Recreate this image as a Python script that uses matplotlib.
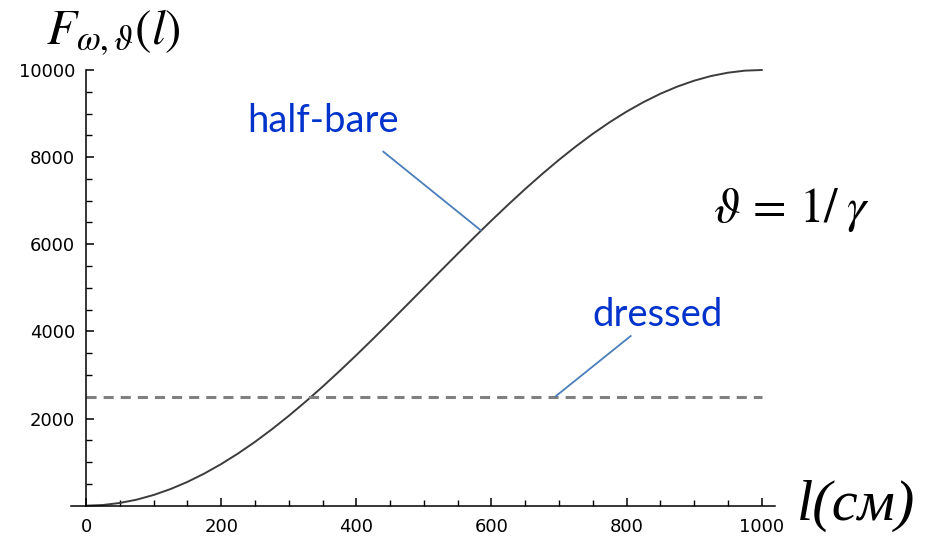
import matplotlib
matplotlib.use("Agg")
import matplotlib.pyplot as plt
from matplotlib.ticker import FixedLocator

# values
l_vals = [0, 25, 50, 75, 100, 125, 150, 175, 200, 225, 250, 275, 300, 325, 350,
          375, 400, 425, 450, 475, 500, 525, 550, 575, 600, 625, 650, 675, 700,
          725, 750, 775, 800, 825, 850, 875, 900, 925, 950, 975, 1000]
f_half_bare = [0, 15, 62, 138, 245, 381, 545, 737, 955, 1198, 1464, 1753, 2061,
               2388, 2730, 3087, 3455, 3833, 4218, 4608, 5000, 5392, 5782, 6167,
               6545, 6913, 7270, 7612, 7939, 8247, 8536, 8802, 9045, 9263, 9455,
               9619, 9755, 9862, 9938, 9985, 10000]
dressed_x = [0, 1000]
dressed_y = [2500, 2500]

x_ticks = [0, 200, 400, 600, 800, 1000]
y_ticks = [2000, 4000, 6000, 8000, 10000]
x_minor = [50 * i for i in range(1, 21)]
y_minor = [500 * i for i in range(1, 21)]

plt.rcParams["mathtext.fontset"] = "stix"

fig = plt.figure(figsize=(9.34, 5.39), dpi=100)
ax = fig.add_axes([0.0632, 0.01336, 0.7813, 0.8891])
ax.set_xlim(-40, 1040)
ax.set_ylim(-600, 10400)

ax.plot(l_vals, f_half_bare, color="#3c3c3c", lw=1.4)
ax.plot(dressed_x, dressed_y, color="#808080", lw=2.2, dashes=(3.3, 2.3))

for s in ["top", "right"]:
    ax.spines[s].set_visible(False)
ax.spines["left"].set_position(("data", 0))
ax.spines["bottom"].set_position(("data", 0))
ax.spines["left"].set_bounds(0, 10000)
ax.spines["bottom"].set_bounds(-23, 1020)
for s in ["left", "bottom"]:
    ax.spines[s].set_linewidth(1.1)

ax.set_xticks(x_ticks)
ax.set_yticks(y_ticks)
ax.xaxis.set_minor_locator(FixedLocator(x_minor))
ax.yaxis.set_minor_locator(FixedLocator(y_minor))
ax.tick_params(which="major", direction="in", length=6, width=1.1, labelsize=13, pad=8)
ax.tick_params(which="minor", direction="in", length=4, width=1.0)
ax.tick_params(axis="x", pad=9)

# annotations
blue = "#0033cc"
line_c = "#4a7ebb"
ax.text(238, 8577, "half-bare", color=blue, fontsize=27.5, family="Lato")
ax.plot([440, 584], [8125, 6323], color=line_c, lw=1.3)
ax.text(750, 4131, "dressed", color=blue, fontsize=27.5, family="Lato")
ax.plot([806, 695.6], [3894, 2518], color=line_c, lw=1.3)

fig.text(713 / 934, 1 - 221.7 / 539, r"$\vartheta\, = \,1/\;\gamma$", fontsize=35, color="black")
fig.text(46 / 934, 1 - 45 / 539, r"$F_{\omega,\vartheta}(l)$", fontsize=35.5, color="black")
fig.text(797 / 934, 1 - 520 / 539, "l(см)", fontsize=42, family="Liberation Serif",
         style="italic", color="black")

fig.savefig("out.png", dpi=100)
